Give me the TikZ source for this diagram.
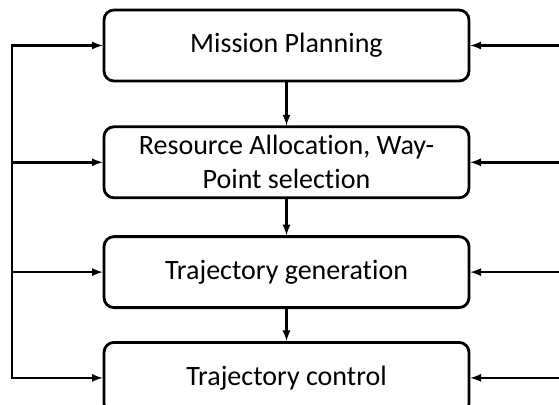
\documentclass[tikz,border=0pt]{standalone}
\usepackage{fontspec}
\setmainfont[Ligatures=NoCommon]{Carlito}
\usetikzlibrary{arrows, positioning, calc}

\begin{document}
\begin{tikzpicture}[
    x=1pt, y=-1pt,
    node distance=36pt,
    block/.style={draw, line width=2.8pt, rectangle, rounded corners=10pt, minimum height=71pt, minimum width=365pt, align=center, font=\fontsize{28}{34}\selectfont},
    line/.style={line width=2.6pt, line cap=rect},
    arrow/.style={line width=2.6pt, ->, >=latex}
]
\useasboundingbox (0,0) rectangle (559,404);

% Nodes
\node (plan) [block] at (286.5,45.5) {Mission Planning};
\node (alloc) [block, below=43pt of plan] {Resource Allocation, Way-\\Point selection};
\node (gen) [block, below=of alloc] {Trajectory generation};
\node (ctrl) [block, below=32pt of gen] {Trajectory control};

% Side rails
\coordinate (lft) at (12,0);
\coordinate (rgt) at (559,0);

% Links
\draw[arrow] (plan) -- (alloc);
\draw[arrow] (alloc) -- (gen);
\draw[arrow] (gen) -- (ctrl);
\draw[line] (lft |- plan.west) -- (lft |- ctrl.west);
\foreach \n in {plan, alloc, gen, ctrl} {
    \draw[arrow] (lft |- \n.west) -- (\n.west);
    \draw[arrow] (rgt |- \n.east) -- (\n.east);
}

\end{tikzpicture}
\end{document}
